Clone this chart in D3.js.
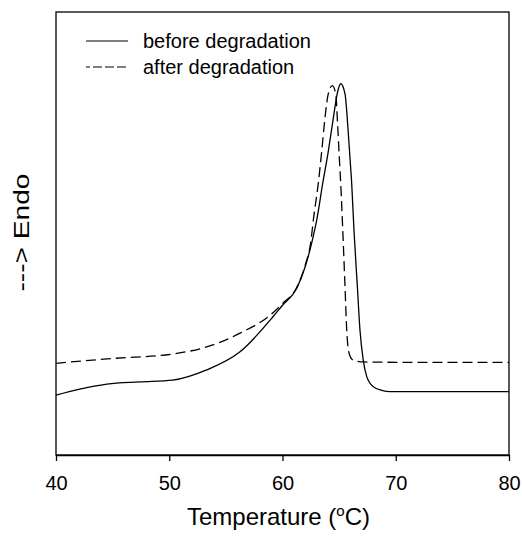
<!DOCTYPE html>
<html>
<head>
<meta charset="utf-8">
<script src="https://cdn.jsdelivr.net/npm/d3@7"></script>
<style>
  body { margin: 0; background: #fff; }
  text { font-family: Arial, "Liberation Sans", sans-serif; fill: #000; }
</style>
</head>
<body>
<svg id="chart" width="522" height="538"></svg>
<script>

/*************************** Data ***************************/

var xTicks = [40, 50, 60, 70, 80];

// before degradation (solid)
var beforeT = [40, 42, 44.5, 47.4, 50.3, 53.3, 56.25, 59.16, 60, 61.25, 62.0, 62.58, 63.02, 63.55, 64.04, 64.49, 64.87, 65.14, 65.52, 65.76, 65.96, 66.11, 66.31, 66.61, 66.84, 67.13, 67.44, 68.02, 68.76, 69.5, 75, 80];
var beforeV = [1.35, 1.48, 1.60, 1.65, 1.69, 1.92, 2.33, 3.12, 3.38, 3.76, 4.25, 4.79, 5.30, 6.13, 6.85, 7.61, 8.20, 8.38, 8.15, 7.45, 6.70, 6.13, 5.08, 3.80, 2.82, 2.14, 1.77, 1.54, 1.46, 1.43, 1.43, 1.43];

// after degradation (dashed)
var afterT = [40, 44.5, 50.3, 53.3, 56.25, 59.16, 60, 61.25, 62.0, 62.52, 62.72, 63.16, 63.46, 63.75, 64.04, 64.40, 64.70, 64.87, 65.02, 65.14, 65.32, 65.52, 65.67, 65.90, 66.25, 67.13, 72, 80];
var afterV = [2.07, 2.17, 2.28, 2.44, 2.75, 3.21, 3.42, 3.78, 4.28, 4.85, 5.30, 6.13, 6.85, 7.61, 8.15, 8.34, 8.15, 7.45, 6.70, 6.13, 5.08, 3.80, 2.82, 2.28, 2.14, 2.10, 2.09, 2.09];

var series = [
  { name: "before degradation", T: beforeT, V: beforeV, dash: null },
  { name: "after degradation",  T: afterT,  V: afterV,  dash: "10,5" }
];

/*************************** Layout ***************************/

var margin = { left: 56, top: 12, right: 13, bottom: 83 };
var svg = d3.select("#chart");
var W = +svg.attr("width"), H = +svg.attr("height");
var plotW = W - margin.left - margin.right, plotH = H - margin.top - margin.bottom;

var x = d3.scaleLinear().domain([40, 80]).range([0, plotW]);
var y = d3.scaleLinear().domain([0, 10]).range([plotH, 0]);

var g = svg.append("g").attr("transform", "translate(" + margin.left + "," + margin.top + ")");

/*************************** Axes / frame ***************************/

var xAxis = d3.axisBottom(x).tickValues(xTicks).tickSize(6).tickSizeOuter(0).tickPadding(15);
var gx = g.append("g").attr("transform", "translate(0," + plotH + ")").call(xAxis);
gx.attr("font-size", null).attr("font-family", null);
gx.select(".domain").attr("stroke", "#000").attr("stroke-width", 1.3);
gx.selectAll(".tick line").attr("stroke", "#000").attr("stroke-width", 1.3);
gx.selectAll(".tick text").style("font-size", "20px");

g.append("rect")
  .attr("x", 0).attr("y", 0).attr("width", plotW).attr("height", plotH)
  .attr("fill", "none").attr("stroke", "#000").attr("stroke-width", 1.3);

g.append("text")
  .attr("x", plotW / 2 - 4).attr("y", plotH + 70)
  .attr("text-anchor", "middle").style("font-size", "24px")
  .html('Temperature (<tspan dy="-9" style="font-size:15px">o</tspan><tspan dy="9">C)</tspan>');

g.append("text")
  .attr("transform", "translate(-27," + (plotH / 2 - 1) + ") rotate(-90)")
  .attr("text-anchor", "middle").style("font-size", "22px")
  .attr("textLength", 118).attr("lengthAdjust", "spacingAndGlyphs")
  .text("---> Endo");

/*************************** Curves ***************************/

var line = d3.line()
  .x(function(d){ return x(d[0]); })
  .y(function(d){ return y(d[1]); })
  .curve(d3.curveMonotoneX);

series.forEach(function(s){
  var pts = s.T.map(function(t, i){ return [t, s.V[i]]; });
  g.append("path")
    .datum(pts)
    .attr("d", line)
    .attr("fill", "none").attr("stroke", "#000").attr("stroke-width", 1.3)
    .attr("stroke-dasharray", s.dash);
});

/*************************** Legend ***************************/

var legend = g.append("g").attr("transform", "translate(30,29)");
series.forEach(function(s, i){
  var row = legend.append("g").attr("transform", "translate(0," + (i * 26) + ")");
  row.append("line")
    .attr("x1", 0).attr("x2", 42).attr("y1", 0).attr("y2", 0)
    .attr("stroke", "#000").attr("stroke-width", 1)
    .attr("stroke-dasharray", s.dash ? "4,3,9,3,9,3,9" : null);
  row.append("text")
    .attr("x", 57).attr("y", 7)
    .style("font-size", "20px")
    .text(s.name);
});

</script>
</body>
</html>
